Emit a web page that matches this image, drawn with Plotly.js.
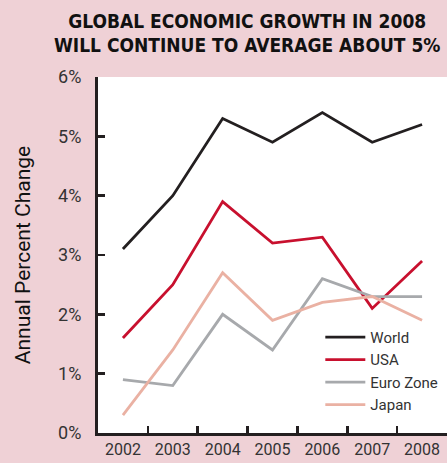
<!DOCTYPE html>
<html>
<head>
<meta charset="utf-8">
<script src="https://cdn.plot.ly/plotly-3.0.1.min.js"></script>
<style>html,body{margin:0;padding:0;background:#efd1d6;}#chart{width:447px;height:463px;}</style>
</head>
<body>
<div id="chart"></div>
<script>
const years = ["2002","2003","2004","2005","2006","2007","2008"];
const world = [3.1, 4.0, 5.3, 4.9, 5.4, 4.9, 5.2];
const usa = [1.6, 2.5, 3.9, 3.2, 3.3, 2.1, 2.9];
const euroZone = [0.9, 0.8, 2.0, 1.4, 2.6, 2.3, 2.3];
const japan = [0.3, 1.4, 2.7, 1.9, 2.2, 2.3, 1.9];
const yTickVals = [0, 1, 2, 3, 4, 5, 6];
const yTickText = ["0%", "1%", "2%", "3%", "4%", "5%", "6%"];

const mk = (y, name, color) => ({
  x: years, y: y, name: name, type: "scatter", mode: "lines",
  line: {color: color, width: 2.8}, hoverinfo: "skip"
});
const traces = [
  mk(world, "World", "#231f20"),
  mk(usa, "USA", "#c8102e"),
  mk(euroZone, "Euro Zone", "#a7a9ac"),
  mk(japan, "Japan", "#eab1a3")
];
const layout = {
  width: 447, height: 463,
  paper_bgcolor: "#efd1d6", plot_bgcolor: "#ffffff",
  margin: {l: 98, r: 0, t: 77, b: 30},
  showlegend: true,
  title: {
    text: "<b>GLOBAL ECONOMIC GROWTH IN 2008<br>WILL CONTINUE TO AVERAGE ABOUT 5%</b>",
    font: {family: "DejaVu Sans Condensed", size: 19, color: "#111111"},
    xref: "container", x: 0.553, xanchor: "center",
    yref: "container", y: 0.94, yanchor: "middle"
  },
  xaxis: {
    type: "category", range: [-0.5, 6.5],
    tickson: "boundaries", ticks: "inside", ticklen: 7, tickwidth: 2.5, tickcolor: "#231f20",
    showline: true, linecolor: "#231f20", linewidth: 3,
    showgrid: false, zeroline: false, fixedrange: true,
    tickfont: {family: "Roboto", size: 16, color: "#333333"}
  },
  yaxis: {
    range: [0, 6], tickvals: yTickVals, ticktext: yTickText,
    ticks: "inside", ticklen: 7, tickwidth: 2.5, tickcolor: "#231f20",
    showline: true, linecolor: "#231f20", linewidth: 3,
    showgrid: false, zeroline: false, fixedrange: true,
    ticklabelstandoff: 10,
    tickfont: {family: "Roboto", size: 18, color: "#333333"},
    title: {text: "Annual Percent Change", font: {family: "Roboto", size: 21, color: "#111111"}, standoff: 22}
  },
  legend: {
    x: 0.637, xanchor: "left", y: 0.315, yanchor: "top",
    bgcolor: "rgba(0,0,0,0)", font: {family: "Roboto", size: 15, color: "#333333"},
    tracegroupgap: 0, itemwidth: 40
  }
};
Plotly.newPlot("chart", traces, layout, {displayModeBar: false, staticPlot: true});
</script>
</body>
</html>
